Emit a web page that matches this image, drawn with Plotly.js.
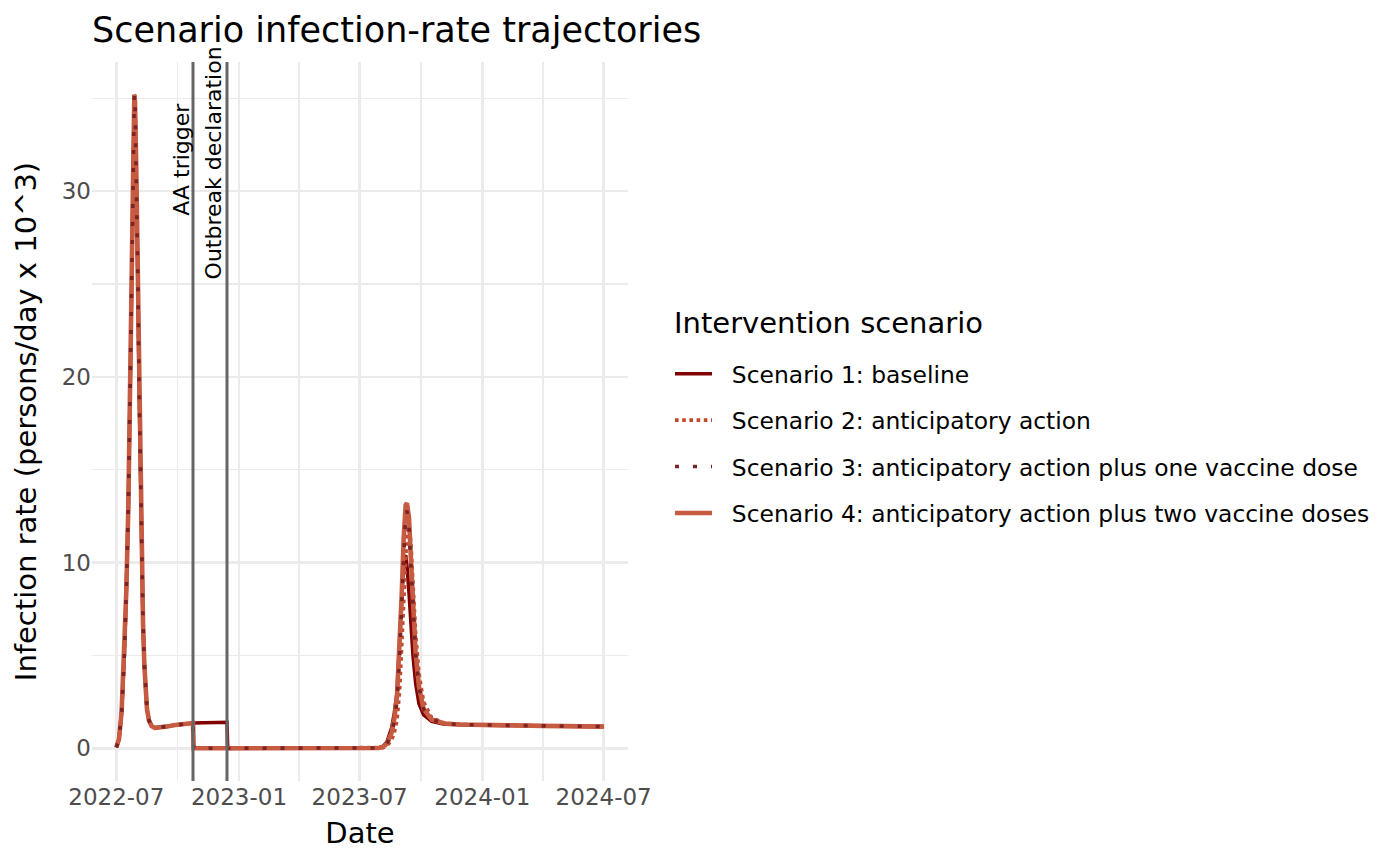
<!DOCTYPE html>
<html>
<head>
<meta charset="utf-8">
<script src="https://cdn.plot.ly/plotly-3.0.1.min.js"></script>
<style>html,body{margin:0;padding:0;background:#fff;}#chart{width:1400px;height:865px;}</style>
</head>
<body>
<div id="chart"></div>
<script>
// ---- data ----
const dates = [
"2022-07-01","2022-07-05","2022-07-09","2022-07-13","2022-07-16","2022-07-19","2022-07-22","2022-07-25","2022-07-27","2022-07-28",
"2022-07-29","2022-07-31","2022-08-02","2022-08-04","2022-08-06","2022-08-08","2022-08-10","2022-08-12","2022-08-14","2022-08-16",
"2022-08-19","2022-08-23","2022-08-28","2022-09-05","2022-09-15","2022-09-25","2022-10-05","2022-10-15","2022-10-24","2022-10-25",
"2022-11-10","2022-11-25","2022-12-14","2022-12-15","2023-02-15","2023-05-01","2023-07-15","2023-07-30","2023-08-05","2023-08-11",
"2023-08-18","2023-08-22","2023-08-26","2023-08-30","2023-09-02","2023-09-05","2023-09-08","2023-09-10","2023-09-13","2023-09-16",
"2023-09-19","2023-09-23","2023-09-28","2023-10-05","2023-10-17","2023-11-05","2023-11-27","2024-01-01","2024-04-01","2024-07-01"
];

const scenario1 = [
0.05,0.5,2.0,5.0,8.5,13,20,28,33,35.2,
34.8,31,26,20,14.5,10,6.8,4.5,3.0,2.1,
1.5,1.2,1.1,1.12,1.18,1.24,1.29,1.33,1.36,1.36,
1.38,1.39,1.40,0,0,0,0,0.03,0.1,0.35,
1.1,1.9,3.0,5.6,8.3,10.1,10.4,9.8,8.4,6.6,
5.0,3.5,2.4,1.8,1.45,1.3,1.27,1.25,1.21,1.17
];
const scenario2 = [
0.05,0.5,2.0,5.0,8.5,13,20,28,33,35.2,
34.8,31,26,20,14.5,10,6.8,4.5,3.0,2.1,
1.5,1.2,1.1,1.12,1.18,1.24,1.29,1.33,1.36,0,
0,0,0,0,0,0,0,0.01,0.04,0.14,
0.45,0.85,1.5,3.1,5.4,8.2,10.6,11.7,12.1,11.0,
8.9,6.2,4.0,2.5,1.65,1.36,1.29,1.25,1.21,1.17
];
const scenario3 = [
0.05,0.5,2.0,5.0,8.5,13,20,28,33,35.2,
34.8,31,26,20,14.5,10,6.8,4.5,3.0,2.1,
1.5,1.2,1.1,1.12,1.18,1.24,1.29,1.33,1.36,0,
0,0,0,0,0,0,0,0.02,0.07,0.25,
0.8,1.5,2.6,5.0,7.8,10.8,12.6,12.8,11.9,9.8,
7.5,5.1,3.3,2.1,1.55,1.34,1.28,1.25,1.21,1.17
];
const scenario4 = [
0.05,0.5,2.0,5.0,8.5,13,20,28,33,35.2,
34.8,31,26,20,14.5,10,6.8,4.5,3.0,2.1,
1.5,1.2,1.1,1.12,1.18,1.24,1.29,1.33,1.36,0,
0,0,0,0,0,0,0,0.02,0.08,0.25,
0.85,1.6,2.8,5.3,8.2,11.3,13.1,13.2,12.4,10.1,
7.6,5.1,3.3,2.1,1.55,1.34,1.28,1.25,1.21,1.17
];

const scenarioNames = [
"Scenario 1: baseline",
"Scenario 2: anticipatory action",
"Scenario 3: anticipatory action plus one vaccine dose",
"Scenario 4: anticipatory action plus two vaccine doses"
];
const legendTitle = "Intervention scenario";
const eventDates = ["2022-10-24","2022-12-14"];
const eventLabels = ["AA trigger","Outbreak declaration"];
const yTicks = [0,10,20,30];

// ---- styles ----
const FONT = "DejaVu Sans";
const styles = [
  {color:"#800000", dash:"solid", width:3.6},
  {color:"#bf4a2c", dash:"dot", width:3.6},
  {color:"#7b2424", dash:"4px,14px", width:3.6},
  {color:"#c65b42", dash:"solid", width:4.6}
];
const seriesVals = [scenario1, scenario2, scenario3, scenario4];
const drawOrder = [0,1,3,2];

const traces = drawOrder.map(i => ({
  type:"scatter", mode:"lines",
  x: dates, y: seriesVals[i],
  name: "&nbsp;&nbsp;" + scenarioNames[i],
  legendrank: i+1,
  legendgroup: "g"+i,
  line: {color: styles[i].color, dash: styles[i].dash, width: styles[i].width},
  hoverinfo: "skip"
}));

const shapes = eventDates.map(d => ({
  type:"line", xref:"x", yref:"paper", x0:d, x1:d, y0:0, y1:1,
  line:{color:"#666666", width:3}, layer:"above"
}));

const annotations = [
  {x:eventDates[0], y:31.7, xref:"x", yref:"y", text:eventLabels[0], textangle:-90,
   showarrow:false, xanchor:"center", yanchor:"middle", xshift:-11, font:{family:FONT,size:22,color:"#000"}},
  {x:eventDates[1], y:31.5, xref:"x", yref:"y", text:eventLabels[1], textangle:-90,
   showarrow:false, xanchor:"center", yanchor:"middle", xshift:-14, font:{family:FONT,size:22,color:"#000"}},
  {x:(672-92)/536, y:(781-323)/719, xref:"paper", yref:"paper", text:legendTitle,
   showarrow:false, xanchor:"left", yanchor:"middle", font:{family:FONT,size:29,color:"#000"}}
];

const layout = {
  width:1400, height:865,
  paper_bgcolor:"#ffffff", plot_bgcolor:"#ffffff",
  font:{family:FONT, color:"#000"},
  margin:{l:92, r:772, t:62, b:84},
  title:{text:"Scenario infection-rate trajectories", font:{family:FONT, size:35, color:"#000"},
         xref:"container", x:92/1400, xanchor:"left", yref:"container", y:1-30/865, yanchor:"middle"},
  xaxis:{
    type:"date", range:["2022-05-25 12:00","2024-08-06 12:00"],
    tick0:"2022-01-01", dtick:"M6", tickformat:"%Y-%m",
    showgrid:true, gridcolor:"#ebebeb", gridwidth:2.4,
    minor:{dtick:"M3", tick0:"2022-01-01", showgrid:true, gridcolor:"#ebebeb", gridwidth:1.3},
    zeroline:false, showline:false, ticks:"",
    tickfont:{family:FONT, size:23, color:"#4d4d4d"},
    title:{text:"Date", font:{family:FONT, size:29, color:"#000"}, standoff:13}
  },
  yaxis:{
    range:[-1.76, 36.96], tickvals:yTicks, ticktext:yTicks.map(String),
    showgrid:true, gridcolor:"#ebebeb", gridwidth:2.4,
    minor:{dtick:5, tick0:0, showgrid:true, gridcolor:"#ebebeb", gridwidth:1.3},
    zeroline:false, showline:false, ticks:"",
    tickfont:{family:FONT, size:23, color:"#4d4d4d"},
    title:{text:"Infection rate (persons/day x 10^3)", font:{family:FONT, size:29, color:"#000"}, standoff:16}
  },
  showlegend:true,
  legend:{
    x:(670-92)/536, xanchor:"left", y:(781-352)/719, yanchor:"top",
    bgcolor:"rgba(0,0,0,0)", borderwidth:0,
    font:{family:FONT, size:23.4, color:"#000"},
    tracegroupgap:13, traceorder:"grouped", itemwidth:37
  },
  shapes: shapes,
  annotations: annotations
};

Plotly.newPlot("chart", traces, layout, {displayModeBar:false, staticPlot:true});
</script>
</body>
</html>
